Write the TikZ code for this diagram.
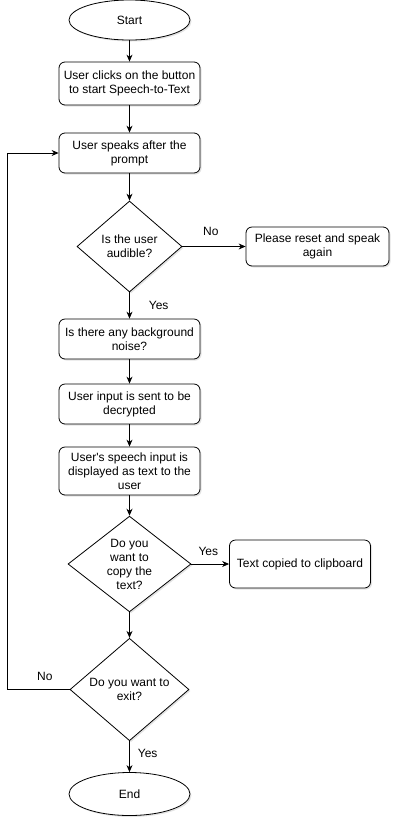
\documentclass[tikz,border=0pt]{standalone}
\usepackage{fontspec}
\setmainfont{Liberation Sans}
\usepackage{tikz}
\usetikzlibrary{positioning, arrows.meta, shapes.geometric, shadows}
\tikzset{
>={Stealth[length=7pt,width=6pt]}, % arrow heads like the drawing tool's
every node/.style={font=\fontsize{12}{14}\selectfont}, % 12px text
shade/.style={drop shadow={shadow xshift=1.5pt, shadow yshift=-1.5pt, opacity=0.22}}, % soft shadow
block/.style={rectangle, draw, thick, rounded corners=6pt, fill=white, minimum width=141pt, minimum height=40pt, align=center, inner sep=0pt, shade},
decision/.style={diamond, draw, thick, fill=white, align=center, inner sep=0pt, shade},
terminal/.style={ellipse, draw, thick, fill=white, minimum width=121pt, minimum height=40pt, shade},
lbl/.style={inner sep=0pt}, % edge labels
}

\begin{document}
\begin{tikzpicture}[line width=0.8pt]
\useasboundingbox (0,0) rectangle (400pt,-831pt);
\node[terminal] (start) at (129.5pt,-20pt) {Start};
\node[block, minimum height=43pt, below of=start, node distance=63.5pt] (click) {User clicks on the button\\to start Speech-to-Text};
\node[block, below of=click, node distance=69.5pt] (speak) {User speaks after the\\prompt};
\node[decision, minimum width=105pt, minimum height=91pt, below of=speak, node distance=93.5pt] (audible) {Is the user\\audible?};
\node[block, minimum width=143pt, minimum height=39pt, right of=audible, node distance=188pt] (reset) {Please reset and speak\\again};
\node[block, below of=audible, node distance=92.5pt] (noise) {Is there any background\\noise?};
\node[block, below of=noise, node distance=65pt] (decrypt) {User input is sent to be\\decrypted};
\node[block, minimum height=48pt, below of=decrypt, node distance=67pt] (shown) {User\textquotesingle s speech input is\\displayed as text to the\\user};
\node[decision, minimum width=123pt, minimum height=86pt, below of=shown, node distance=93pt] (copy) {Do you\\want to\\copy the\\text?};
\node[block, minimum height=48pt, right of=copy, node distance=170.5pt] (clip) {Text copied to clipboard};
\node[decision, minimum width=119pt, minimum height=99pt, below of=copy, node distance=125.5pt] (exit) {Do you want to\\exit?};
\node[terminal, minimum height=43pt, below of=exit, node distance=104.5pt] (end) {End};
\draw[->]
(start) edge (click)
(click) edge (speak)
(speak) edge (audible)
(audible) edge node[lbl, pos=0.45, above=10pt] {No} (reset)
(audible) edge node[lbl, right=19pt] {Yes} (noise)
(noise) edge (decrypt)
(decrypt) edge (shown)
(shown) edge (copy)
(copy) edge node[lbl, pos=0.45, above=8pt] {Yes} (clip)
(copy) edge (exit)
(exit) edge node[lbl, right=8pt, pos=0.4] {Yes} (end)
;
\draw[->] (exit.west) -- node[lbl, pos=0.4, above=8pt] {No} ++(-62pt,0) |- (speak.west);
\end{tikzpicture}
\end{document}
